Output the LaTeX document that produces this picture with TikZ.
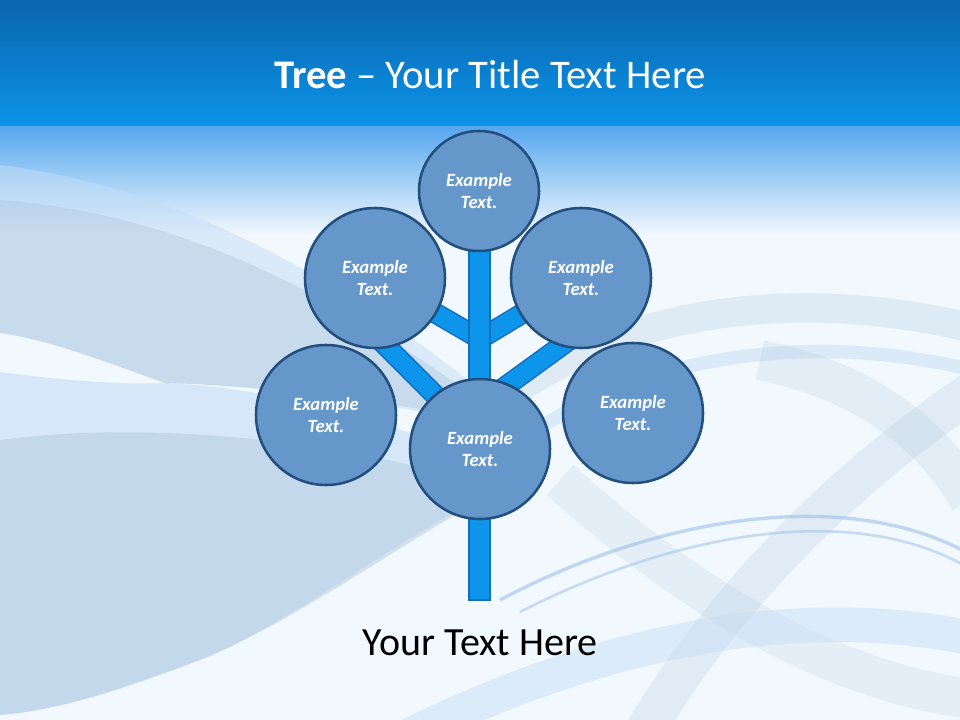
\documentclass[tikz,border=0pt]{standalone}
\usepackage{fontspec}
\setmainfont{Carlito}
\usetikzlibrary{positioning}

\definecolor{bandtop}{HTML}{0A66AE}
\definecolor{bandbot}{HTML}{0B93E8}
\definecolor{fadetop}{HTML}{55A6EE}
\definecolor{bgbase}{HTML}{F1F8FE}
\definecolor{swirl}{HTML}{AFC6DD}
\definecolor{lightswirl}{HTML}{C4DDF6}
\definecolor{lineblue}{HTML}{9CC0E6}
\definecolor{leaffill}{HTML}{6597CA}
\definecolor{leafline}{HTML}{234F7E}
\definecolor{barfill}{HTML}{0C95EA}
\definecolor{barline}{HTML}{136DBE}

\tikzset{
  leaf/.style={circle, draw=leafline, fill=leaffill, line width=1.9pt,
    minimum size=105pt, inner sep=0pt, text=white, align=center,
    font=\fontsize{14}{17}\selectfont\bfseries\itshape},
  topleaf/.style={leaf, minimum size=90pt},
  branch/.style={draw=barline, double=barfill, double distance=13.5pt, line width=1.1pt},
}

\begin{document}
\begin{tikzpicture}[x=0.75pt, y=-0.75pt]
        % Background
        \fill [bgbase] (0,0) rectangle (960,720);
        \useasboundingbox (0,0) rectangle (960,720);
        \shade [top color=fadetop, bottom color=bgbase] (0,126) rectangle (960,235);

        % Swirls, left
        \fill [lightswirl, opacity=.5] (0,165) .. controls (200,190) and (380,300) .. (540,440)
            .. controls (400,400) and (250,385) .. (165,383)
            .. controls (100,360) and (50,340) .. (0,333) -- cycle;
        \fill [swirl, opacity=.4] (0,200) .. controls (200,215) and (360,310) .. (520,430)
            .. controls (400,400) and (250,385) .. (165,383)
            .. controls (100,360) and (50,340) .. (0,333) -- cycle;
        \fill [lightswirl, opacity=.6] (0,372) .. controls (60,380) and (120,385) .. (165,383)
            .. controls (300,390) and (420,430) .. (520,480)
            .. controls (420,520) and (300,620) .. (200,660)
            .. controls (120,690) and (60,710) .. (0,715) -- cycle;
        \fill [swirl, opacity=.45] (0,440) .. controls (150,420) and (350,440) .. (500,490)
            .. controls (420,530) and (300,620) .. (200,660)
            .. controls (120,690) and (60,710) .. (0,715) -- cycle;

        % Swirls, right
        \draw [swirl, line width=22pt, opacity=.28] (430,470) .. controls (560,310) and (780,280) .. (980,330);
        \draw [lightswirl, line width=10pt, opacity=.5] (450,505) .. controls (580,355) and (800,325) .. (980,372);
        \draw [swirl, line width=30pt, opacity=.22] (760,360) .. controls (860,380) and (930,430) .. (970,500);
        \draw [swirl, line width=30pt, opacity=.25] (990,380) .. controls (850,470) and (720,600) .. (640,740);
        \draw [swirl, line width=30pt, opacity=.2] (560,480) .. controls (650,560) and (800,680) .. (980,700);
        \draw [lightswirl, line width=26pt, opacity=.45] (400,740) .. controls (600,640) and (800,600) .. (980,640);
        \draw [lineblue, line width=2.5pt, opacity=.6] (500,600) .. controls (650,520) and (850,480) .. (980,560);
        \draw [lineblue, line width=2pt, opacity=.5] (520,612) .. controls (670,535) and (860,495) .. (980,575);

        % Title band
        \shade [top color=bandtop, bottom color=bandbot] (0,0) rectangle (960,126);
        \node (title) at (490,75) {\fontsize{30.5}{36}\selectfont\color{white}\textbf{Tree} -- Your Title Text Here};

        % Tree
        \coordinate (fork) at (480,339);
        \coordinate (low) at (480,440);
        \coordinate (lowr) at (480,405);
        \coordinate (ltip) at (380,340);
        \coordinate (rtip) at (590,325);
        \coordinate (ulc) at (375,278);
        \coordinate (urc) at (581,278);

        \draw [branch] (fork) -- (ulc);
        \draw [branch] (fork) -- (urc);
        \draw [branch] (low) -- (ltip);
        \draw [branch] (lowr) -- (rtip);
        \draw [draw=barline, fill=barfill, line width=1.1pt] (469,250) rectangle (490,600);

        \node [topleaf] (top) at (479,191) {Example\\Text.};
        \node [leaf] (ul) at (ulc) {Example\\Text.};
        \node [leaf] (ur) at (urc) {Example\\Text.};
        \node [leaf] (ll) at (326,415) {Example\\Text.};
        \node [leaf] (lr) at (633,413) {Example\\Text.};
        \node [leaf] (bot) at (480,449) {Example\\Text.};

        \node (caption) at (480,643) {\fontsize{30}{36}\selectfont Your Text Here};
    \end{tikzpicture}
\end{document}
